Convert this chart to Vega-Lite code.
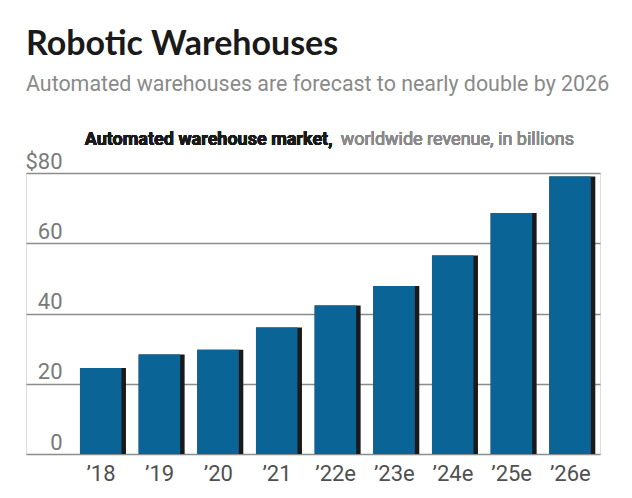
{
  "$schema": "https://vega.github.io/schema/vega-lite/v6.json",
  "autosize": {"type": "none"},
  "width": 574,
  "height": 281,
  "padding": {"left": 26, "top": 173, "right": 32, "bottom": 44},
  "background": "white",
  "title": {
    "text": "Robotic Warehouses",
    "subtitle": "Automated warehouses are forecast to nearly double by 2026",
    "anchor": "start",
    "frame": "group",
    "font": "Lato",
    "fontSize": 34,
    "fontWeight": "bold",
    "color": "#1a1a1a",
    "subtitleFont": "Roboto",
    "subtitleFontSize": 21.4,
    "subtitleColor": "#8a8a8a",
    "subtitlePadding": 12,
    "offset": 36
  },
  "data": {
    "values": [
      {"year": "’18", "revenue": 24.5},
      {"year": "’19", "revenue": 28.3},
      {"year": "’20", "revenue": 29.7},
      {"year": "’21", "revenue": 36.0},
      {"year": "’22e", "revenue": 42.3},
      {"year": "’23e", "revenue": 47.8},
      {"year": "’24e", "revenue": 56.5},
      {"year": "’25e", "revenue": 68.6},
      {"year": "’26e", "revenue": 79.0}
    ]
  },
  "encoding": {
    "x": {
      "field": "year",
      "type": "nominal",
      "sort": null,
      "scale": {"type": "band", "paddingInner": 0.216, "paddingOuter": 0.5, "align": 0.92},
      "axis": {
        "title": null,
        "domain": false,
        "ticks": false,
        "tickSize": 0,
        "labelAngle": 0,
        "labelPadding": 9,
        "labelOffset": -2,
        "labelFont": "Roboto",
        "labelFontSize": 22,
        "labelColor": "#505050"
      }
    },
    "y": {
      "field": "revenue",
      "type": "quantitative",
      "scale": {"domain": [0, 80], "nice": false, "zero": true},
      "axis": {
        "title": null,
        "values": [0, 20, 40, 60, 80],
        "labelExpr": "datum.value == 80 ? '$80' : datum.label",
        "grid": true,
        "gridColor": "#8c8c8c",
        "gridWidth": 1.5,
        "domain": false,
        "ticks": false,
        "tickSize": 0,
        "labelAlign": "right",
        "labelBaseline": "alphabetic",
        "labelPadding": -36,
        "labelOffset": -5,
        "labelFlush": false,
        "labelOverlap": false,
        "labelFont": "Roboto",
        "labelFontSize": 22,
        "labelColor": "#7a7a7a"
      }
    }
  },
  "layer": [
    {"mark": {"type": "bar", "color": "#1a1a1a"}},
    {"mark": {"type": "bar", "color": "#0a6496", "width": 41.5, "xOffset": -2.25}},
    {
      "mark": {
        "type": "text",
        "text": "Automated warehouse market,",
        "font": "Roboto",
        "fontWeight": "bold",
        "fontSize": 18,
        "align": "right",
        "baseline": "alphabetic",
        "color": "#1a1a1a",
        "dx": -5
      },
      "encoding": {"x": {"datum": "’22e"}, "y": {"datum": 88}}
    },
    {
      "mark": {
        "type": "text",
        "text": "worldwide revenue, in billions",
        "font": "Roboto",
        "fontSize": 18,
        "align": "left",
        "baseline": "alphabetic",
        "color": "#8a8a8a",
        "dx": 3
      },
      "encoding": {"x": {"datum": "’22e"}, "y": {"datum": 88}}
    }
  ]
}
